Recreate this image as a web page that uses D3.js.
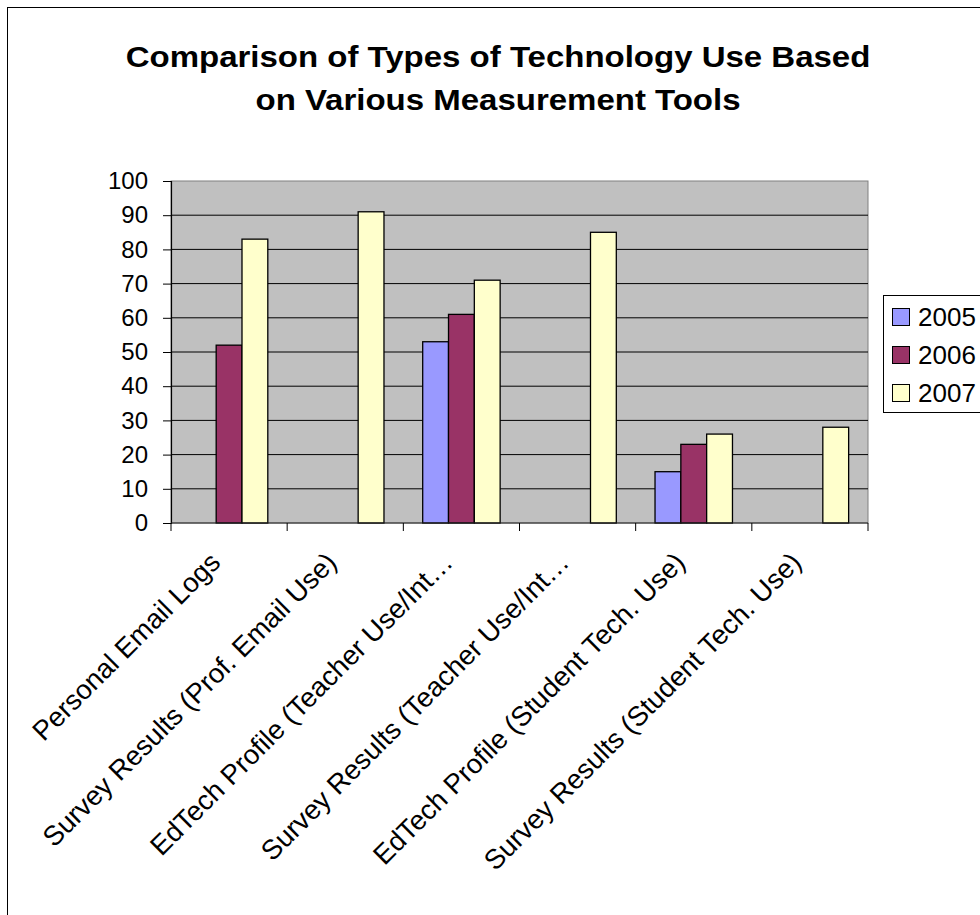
<!DOCTYPE html>
<html>
<head>
<meta charset="utf-8">
<script src="https://cdn.jsdelivr.net/npm/d3@7"></script>
<style>
  body { margin: 0; background: #fff; }
  svg { display: block; font-family: "Liberation Sans", Arial, sans-serif; }
</style>
</head>
<body>
<svg id="chart" width="980" height="915"></svg>
<script>
const categories = [
	"Personal Email Logs",
	"Survey Results (Prof. Email Use)",
	"EdTech Profile (Teacher Use/Int\u2026",
	"Survey Results (Teacher Use/Int\u2026",
	"EdTech Profile (Student Tech. Use)",
	"Survey Results (Student Tech. Use)"
];
const years = ["2005", "2006", "2007"];
const v2005 = [null, null, 53, null, 15, null];
const v2006 = [52, null, 61, null, 23, null];
const v2007 = [83, 91, 71, 85, 26, 28];
const yTicks = [0, 10, 20, 30, 40, 50, 60, 70, 80, 90, 100];
const titleLines = ["Comparison of Types of Technology Use Based", "on Various Measurement Tools"];

const colors = {"2005": "#9999ff", "2006": "#993366", "2007": "#ffffcc"};
const series = {"2005": v2005, "2006": v2006, "2007": v2007};

const svg = d3.select("#chart");

// outer chart border (runs off the right and bottom like the source)
svg.append("rect")
	.attr("x", 7.5).attr("y", 7.5)
	.attr("width", 1000).attr("height", 1000)
	.attr("fill", "#fff").attr("stroke", "#000");

// title, slightly widened like the source picture
svg.append("g")
	.attr("transform", "translate(498,0) scale(1.1,1)")
	.selectAll("text")
	.data(titleLines)
	.enter().append("text")
		.attr("x", 0)
		.attr("y", (d, i) => 67 + i * 43)
		.attr("text-anchor", "middle")
		.attr("font-size", 30)
		.attr("font-weight", "bold")
		.text(d => d);

const plot = {left: 171, right: 868, top: 181, bottom: 523};

const x = d3.scaleBand().domain(categories).range([plot.left, plot.right]);
const y = d3.scaleLinear().domain([0, 100]).range([plot.bottom, plot.top]);
const groupW = x.bandwidth() * 3 / 4.5;
const x1 = d3.scaleBand().domain(years).range([0, groupW]);

svg.append("rect")
	.attr("x", plot.left).attr("y", plot.top)
	.attr("width", plot.right - plot.left).attr("height", plot.bottom - plot.top)
	.attr("fill", "#c0c0c0").attr("stroke", "#808080");

// gridlines
svg.append("g").selectAll("line")
	.data(yTicks.filter(t => t > 0 && t < 100))
	.enter().append("line")
		.attr("x1", plot.left).attr("x2", plot.right)
		.attr("y1", d => y(d)).attr("y2", d => y(d))
		.attr("stroke", "#000").attr("stroke-width", 1);

// bars
const flat = [];
categories.forEach((c, i) => {
	years.forEach(yr => {
		if (series[yr][i] != null) flat.push({cat: c, year: yr, value: series[yr][i]});
	});
});

svg.append("g").selectAll("rect")
	.data(flat)
	.enter().append("rect")
		.attr("x", d => x(d.cat) + (x.bandwidth() - groupW) / 2 + x1(d.year))
		.attr("y", d => y(d.value))
		.attr("width", x1.bandwidth())
		.attr("height", d => y(0) - y(d.value))
		.attr("fill", d => colors[d.year])
		.attr("stroke", "#000").attr("stroke-width", 1.3);

// y axis
const yAxis = svg.append("g")
	.attr("transform", `translate(${plot.left},0)`)
	.call(d3.axisLeft(y).tickValues(yTicks).tickSize(8).tickPadding(15));
yAxis.select(".domain").attr("stroke", "#000").attr("stroke-width", 1.2);
yAxis.selectAll(".tick line").attr("stroke", "#000");
yAxis.selectAll(".tick text")
	.attr("font-size", 24)
	.attr("font-family", "Liberation Sans, Arial, sans-serif")
	.attr("fill", "#000");

// x axis line and ticks at category boundaries
svg.append("line")
	.attr("x1", plot.left).attr("x2", plot.right)
	.attr("y1", plot.bottom).attr("y2", plot.bottom)
	.attr("stroke", "#222").attr("stroke-width", 1.2);

const bounds = categories.map(c => x(c)).concat([plot.right]);
svg.append("g").selectAll("line")
	.data(bounds)
	.enter().append("line")
		.attr("x1", d => d).attr("x2", d => d)
		.attr("y1", plot.bottom).attr("y2", plot.bottom + 8)
		.attr("stroke", "#000");

// rotated category labels
svg.append("g").selectAll("text")
	.data(categories)
	.enter().append("text")
		.attr("transform", d => `translate(${x(d) + x.bandwidth() / 2 - 7},564) rotate(-45)`)
		.attr("text-anchor", "end")
		.attr("font-size", 27.5)
		.text(d => d);

// legend
const legend = svg.append("g");
legend.append("rect")
	.attr("x", 883.5).attr("y", 295.5)
	.attr("width", 200).attr("height", 117)
	.attr("fill", "#fff").attr("stroke", "#000");

const rows = legend.selectAll("g")
	.data(years)
	.enter().append("g")
		.attr("transform", (d, i) => `translate(0,${317 + i * 38})`);
rows.append("rect")
	.attr("x", 892.5).attr("y", -8.5)
	.attr("width", 17).attr("height", 17)
	.attr("fill", d => colors[d]).attr("stroke", "#000");
rows.append("text")
	.attr("x", 918).attr("y", 0).attr("dy", "0.36em")
	.attr("font-size", 26)
	.text(d => d);
</script>
</body>
</html>
